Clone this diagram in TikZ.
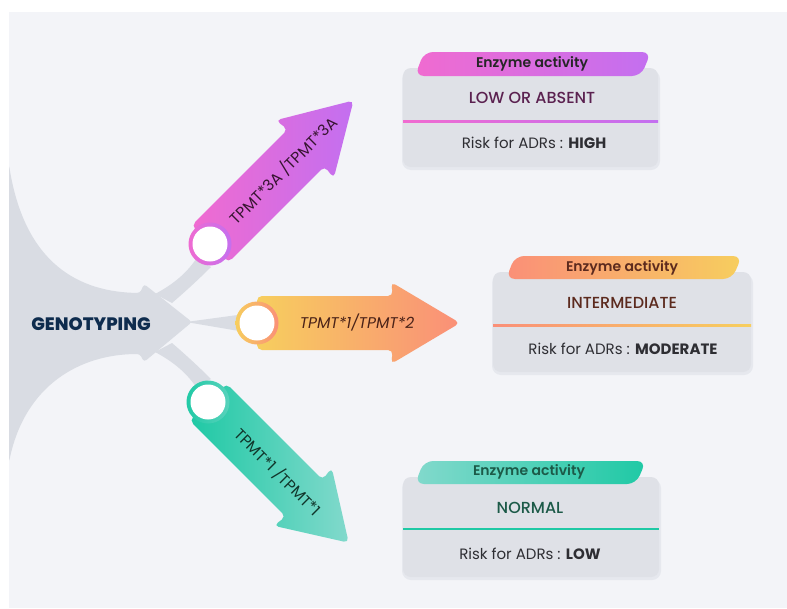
\documentclass[tikz,border=0pt]{standalone}
\usepackage{fontspec}
\setmainfont{Poppins}
\newfontfamily\psemi{Poppins SemiBold}
\newfontfamily\pmed{Poppins Medium}
\newfontfamily\pxbold{Poppins ExtraBold}
\begin{document}
\definecolor{panel}{HTML}{F3F4F8}
\definecolor{funnel}{HTML}{D9DCE3}
\definecolor{boxgray}{HTML}{DFE1E7}
\definecolor{boxshade}{HTML}{E6E8EE}
\definecolor{navy}{HTML}{0E2C4E}
\definecolor{pinkA}{HTML}{F06BD0}
\definecolor{purpA}{HTML}{C36FF0}
\definecolor{yelB}{HTML}{F7CE5E}
\definecolor{salB}{HTML}{FA8F78}
\definecolor{tealC}{HTML}{1FC9A5}
\definecolor{ltealC}{HTML}{82D9CC}
\definecolor{txtA}{HTML}{5B2150}
\definecolor{txtB}{HTML}{5C2A1E}
\definecolor{txtC}{HTML}{1C5A48}
\definecolor{risk}{HTML}{2E2E33}
\begin{tikzpicture}[x=1pt,y=-1pt,
  infobox/.style={fill=boxgray,rounded corners=8pt},
  boxshadow/.style={fill=boxshade,rounded corners=9pt},
  tabtext/.style={font=\psemi\fontsize{14}{16}\selectfont},
  valtext/.style={font=\pmed\fontsize{16}{18}\selectfont},
  risktext/.style={font=\fontsize{15}{17}\selectfont,text=risk},
  arrowlabel/.style={font=\fontsize{15.5}{17}\selectfont},
  branch/.style={fill=funnel}]
\useasboundingbox (0,0) rectangle (787,608);
\fill[white] (0,0) rectangle (787,608);
% light panel
\fill[panel] (9,12) rectangle (787,608);

% grey funnel on the left with its arrow head
\fill[funnel, rounded corners=3pt] (9,165) .. controls (25,265) and (80,292) .. (140,293)
  -- (144,284) -- (192,322) -- (144,362) -- (140,354)
  .. controls (80,354) and (25,385) .. (9,462) -- cycle;
\fill[branch] (155,294) .. controls (172,285) and (186,274) .. (196,259)
  -- (211,267) .. controls (200,278) and (186,291) .. (172,303) -- cycle;
\fill[branch] (155,352) .. controls (172,361) and (186,372) .. (196,387)
  -- (211,379) .. controls (200,368) and (186,355) .. (172,343) -- cycle;
\fill[branch] (186,322) -- (245,314) -- (245,332) -- cycle;
\node[font=\pxbold\fontsize{18}{20}\selectfont, text=navy] (geno) at (91,324) {GENOTYPING};

% upper arrow
\begin{scope}[shift={(210,244)}, rotate=45]
  \shade[left color=pinkA, right color=purpA, rounded corners=5pt]
    (0,-26) -- (136,-26) -- (134,-41) -- (203,0) -- (134,41) -- (136,26) -- (0,26) -- cycle;
  \shade[left color=pinkA, right color=purpA] (0,0) circle (21.5);
  \fill[white] (0,0) circle (17.5);
  \node[arrowlabel, rotate=45, text=txtA!60!black] (labA) at (104,0) {TPMT*3A /TPMT*3A};
\end{scope}

% middle arrow
\begin{scope}[shift={(257,323)}]
  \shade[left color=yelB, right color=salB, rounded corners=5pt]
    (0,-27) -- (136,-27) -- (134,-41) -- (203,0) -- (134,41) -- (136,27) -- (0,27) -- cycle;
  \shade[left color=yelB, right color=salB] (0,0) circle (21.5);
  \fill[white] (0,0) circle (17.5);
  \node[arrowlabel, font=\itshape\fontsize{15.5}{17}\selectfont, text=txtB!80!black] (labB) at (100,0) {TPMT*1/TPMT*2};
\end{scope}

% lower arrow
\begin{scope}[shift={(208,402)}, rotate=-45]
  \shade[left color=tealC, right color=ltealC, rounded corners=5pt]
    (0,-26) -- (136,-26) -- (134,-41) -- (199,0) -- (134,41) -- (136,26) -- (0,26) -- cycle;
  \shade[left color=tealC, right color=ltealC!60!tealC] (0,0) circle (21.5);
  \fill[white] (0,0) circle (17.5);
  \node[arrowlabel, rotate=-45, text=txtC!60!black] (labC) at (99,0) {TPMT*1 /TPMT*1};
\end{scope}

% upper info box
\fill[boxshadow] (402,70) rectangle (660,170);
\fill[infobox] (403,68) rectangle (658,167);
\shade[left color=pinkA, right color=purpA, rounded corners=9pt]
  (415,76) -- (424,52) -- (651,52) -- (641,76) -- cycle;
\shade[left color=pinkA, right color=purpA] (403,120.2) rectangle (658,122);
\node[tabtext, text=black!85] (tabA) at (532,64) {Enzyme activity};
\node[valtext, text=txtA] (valA) at (532,98) {LOW OR ABSENT};
\node[risktext] (riskA) at (534,143) {Risk for ADRs : {\bfseries HIGH}};

% middle info box
\fill[boxshadow] (492,274) rectangle (753,375);
\fill[infobox] (493,272) rectangle (751,372);
\shade[left color=salB, right color=yelB, rounded corners=9pt]
  (506,279) -- (515,256) -- (742,256) -- (732,279) -- cycle;
\shade[left color=salB, right color=yelB] (493,324.2) rectangle (751,326);
\node[tabtext, text=txtB] (tabB) at (622,268) {Enzyme activity};
\node[valtext, text=txtB] (valB) at (622,303) {INTERMEDIATE};
\node[risktext] (riskB) at (623,349) {Risk for ADRs : {\bfseries MODERATE}};

% lower info box
\fill[boxshadow] (402,479) rectangle (661,580);
\fill[infobox] (403,477) rectangle (659,577);
\shade[left color=ltealC, right color=tealC, rounded corners=9pt]
  (415,484) -- (424,461) -- (646,461) -- (636,484) -- cycle;
\fill[tealC] (403,528.2) rectangle (659,530);
\node[tabtext, text=txtC] (tabC) at (529,472) {Enzyme activity};
\node[valtext, text=txtC] (valC) at (530,508) {NORMAL};
\node[risktext] (riskC) at (530,554) {Risk for ADRs : {\bfseries LOW}};
\end{tikzpicture}
\end{document}
